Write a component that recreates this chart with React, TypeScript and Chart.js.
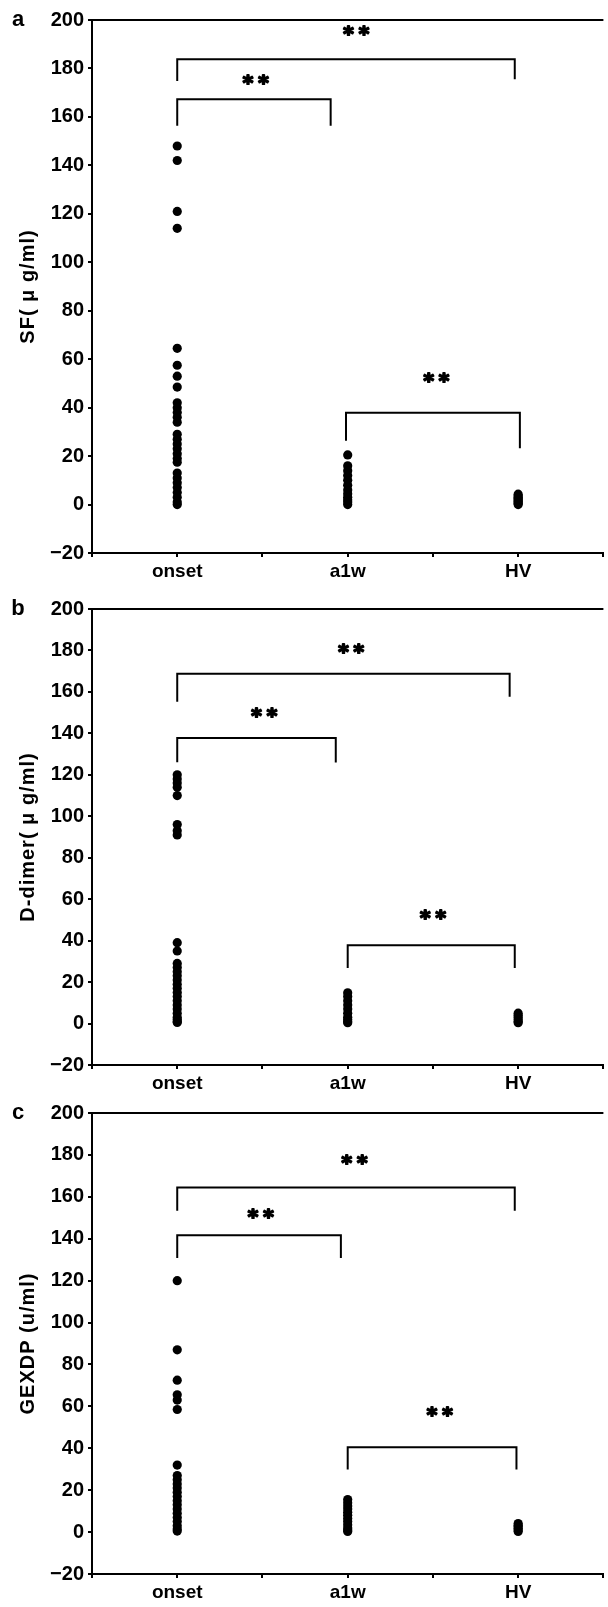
import React, { useEffect, useRef } from 'react';
import { Chart, registerables } from 'chart.js';
Chart.register(...registerables);

const FONT = '"Liberation Sans", Arial, Helvetica, sans-serif';

// Categories (x positions 0,1,2)
const categories = ['onset', 'a1w', 'HV'];
const yMin = -20;
const yMax = 200;
const yStep = 20;

// Panel a: SF (μg/ml)
const sfOnset = [148, 142, 121, 114, 64.5, 57.5, 53, 48.5, 42, 40, 38, 36, 34, 29, 27, 25, 23, 21, 19, 17.5, 13, 11, 9, 7, 5, 3, 1, 0];
const sfA1w = [20.5, 16, 14, 12, 10, 8, 6, 4.5, 3, 2, 1, 0];
const sfHV = [4.3, 3.5, 3, 2.5, 2, 1.5, 1, 0.5, 0];
// brackets: [xLeft, xRight, yTop, yLeftEnd, yRightEnd]
const sfBrackets = [
  [0, 1.98, 183.8, 174.8, 175.5],
  [0, 0.9, 167.3, 156.3, 156.3],
  [0.99, 2.01, 37.9, 26.3, 23.2],
];
// significance marks: [x, y]
const sfStars = [
  [1.05, 196.5],
  [0.46, 176.6],
  [1.52, 53.4],
];

// Panel b: D-dimer (μg/ml)
const ddOnset = [120, 118, 116, 114, 110, 96, 93, 91, 39, 35, 29, 27, 25, 23, 21, 19, 17, 15, 13, 11, 9, 7, 5, 3, 2, 1, 0.5];
const ddA1w = [14.8, 13, 11, 9, 7, 5, 3, 2, 1, 0.4];
const ddHV = [5, 4, 3, 2, 1, 0.4];
const ddBrackets = [
  [0, 1.95, 168.8, 155.2, 157.7],
  [0, 0.93, 137.8, 126.1, 126],
  [1.0, 1.98, 37.8, 26.8, 26.8],
];
const ddStars = [
  [1.02, 182],
  [0.51, 151.5],
  [1.5, 53.9],
];

// Panel c: GEXDP (u/ml)
const gxOnset = [120, 87, 72.5, 65.5, 63, 58.5, 32, 27, 25, 23, 21, 19, 17, 15, 13, 11, 9, 7, 5, 3, 1.5, 0.5];
const gxA1w = [15.5, 14, 12.5, 11, 9.5, 8, 6.5, 5, 3.5, 2, 1, 0.3];
const gxHV = [4.1, 3.3, 2.5, 1.8, 1, 0.3];
const gxBrackets = [
  [0, 1.98, 164.5, 153.4, 153.4],
  [0, 0.96, 141.6, 130.8, 130.8],
  [1.0, 1.99, 40.5, 29.9, 29.9],
];
const gxStars = [
  [1.04, 178.8],
  [0.49, 153.4],
  [1.54, 58.8],
];

type PanelDef = {
  letter: string;
  title: string;
  groups: number[][];
  brackets: number[][];
  stars: number[][];
  top: number;
  height: number;
  xAxisHeight: number;
};

const panels: PanelDef[] = [
  { letter: 'a', title: 'SF( \u03bc g/ml)', groups: [sfOnset, sfA1w, sfHV], brackets: sfBrackets, stars: sfStars, top: 0, height: 600, xAxisHeight: 47 },
  { letter: 'b', title: 'D-dimer( \u03bc g/ml)', groups: [ddOnset, ddA1w, ddHV], brackets: ddBrackets, stars: ddStars, top: 589, height: 516, xAxisHeight: 40 },
  { letter: 'c', title: 'GEXDP (u/ml)', groups: [gxOnset, gxA1w, gxHV], brackets: gxBrackets, stars: gxStars, top: 1093, height: 514, xAxisHeight: 33 },
];

function Panel({ def }: { def: PanelDef }) {
  const ref = useRef<HTMLCanvasElement | null>(null);
  useEffect(() => {
    if (!ref.current) return;
    const datasets: any[] = [];
    def.groups.forEach((vals, i) => {
      datasets.push({
        type: 'scatter',
        data: vals.map((v) => ({ x: i, y: v })),
        pointRadius: 4.6,
        pointBackgroundColor: '#000',
        pointBorderWidth: 0,
        showLine: false,
      });
    });
    def.brackets.forEach(([x1, x2, yt, yl, yr]) => {
      datasets.push({
        type: 'scatter',
        data: [
          { x: x1, y: yl },
          { x: x1, y: yt },
          { x: x2, y: yt },
          { x: x2, y: yr },
        ],
        showLine: true,
        borderColor: '#000',
        borderWidth: 2,
        pointRadius: 0,
        fill: false,
        tension: 0,
      });
    });

    const annot = {
      id: 'annot',
      afterDraw(chart: any) {
        const { ctx, chartArea, scales } = chart;
        ctx.save();
        ctx.strokeStyle = '#000';
        ctx.lineWidth = 2;
        ctx.beginPath();
        ctx.moveTo(chartArea.left, chartArea.top);
        ctx.lineTo(chartArea.right, chartArea.top);
        ctx.stroke();
        ctx.fillStyle = '#000';
        // panel letter
        ctx.font = `bold 22px ${FONT}`;
        ctx.textAlign = 'center';
        ctx.textBaseline = 'middle';
        ctx.fillText(def.letter, 18, chartArea.top);
        // y title
        ctx.save();
        ctx.font = `bold 20px ${FONT}`;
        (ctx as any).letterSpacing = '1px';
        ctx.translate(28, (chartArea.top + chartArea.bottom) / 2);
        ctx.rotate(-Math.PI / 2);
        ctx.fillText(def.title, 0, 0);
        ctx.restore();
        // stars
        ctx.font = `bold 20px "DejaVu Sans", ${FONT}`;
        (ctx as any).letterSpacing = '5px';
        ctx.textBaseline = 'alphabetic';
        ctx.lineWidth = 1.8;
        ctx.lineJoin = 'round';
        def.stars.forEach(([sx, sy]) => {
          const px = scales.x.getPixelForValue(sx);
          const py = scales.y.getPixelForValue(sy);
          ctx.fillText('**', px + 2.5, py + 12);
          ctx.strokeText('**', px + 2.5, py + 12);
        });
        ctx.restore();
      },
    };

    const chart = new Chart(ref.current, {
      type: 'scatter',
      data: { datasets },
      plugins: [annot],
      options: {
        animation: false,
        responsive: false,
        events: [],
        layout: { padding: { top: 20, left: 0, right: 0, bottom: 0 } },
        plugins: { legend: { display: false }, tooltip: { enabled: false }, title: { display: false } },
        scales: {
          x: {
            type: 'linear',
            min: -0.5,
            max: 2.5,
            afterFit: (s: any) => {
              s.height = def.xAxisHeight;
            },
            border: { display: true, color: '#000', width: 2 },
            grid: { display: true, drawOnChartArea: false, drawTicks: true, tickLength: 4, color: '#000', lineWidth: 2 },
            ticks: {
              stepSize: 0.5,
              autoSkip: false,
              maxRotation: 0,
              padding: 3,
              color: '#000',
              font: { family: FONT, size: 19, weight: 'bold' },
              callback: (v: any) => {
                const n = Number(v);
                return Number.isInteger(n) && n >= 0 && n < categories.length ? categories[n] : '';
              },
            },
          },
          y: {
            type: 'linear',
            min: yMin,
            max: yMax,
            afterFit: (s: any) => {
              s.width = 92;
            },
            border: { display: true, color: '#000', width: 2 },
            grid: { display: true, drawOnChartArea: false, drawTicks: true, tickLength: 4, color: '#000', lineWidth: 2 },
            ticks: {
              stepSize: yStep,
              padding: 4,
              color: '#000',
              font: { family: FONT, size: 20, weight: 'bold' },
              callback: (v: any) => (Number(v) < 0 ? '\u2212' + Math.abs(Number(v)) : String(v)),
            },
          },
        },
      } as any,
    });
    return () => chart.destroy();
  }, [def]);
  return (
    <canvas
      ref={ref}
      width={608}
      height={def.height}
      style={{ position: 'absolute', left: 0, top: def.top, width: 608, height: def.height }}
    />
  );
}

export default function App() {
  return (
    <div style={{ position: 'absolute', left: 0, top: 0, width: 608, height: 1607, overflow: 'hidden', background: '#fff' }}>
      {panels.map((p) => (
        <Panel key={p.letter} def={p} />
      ))}
    </div>
  );
}
